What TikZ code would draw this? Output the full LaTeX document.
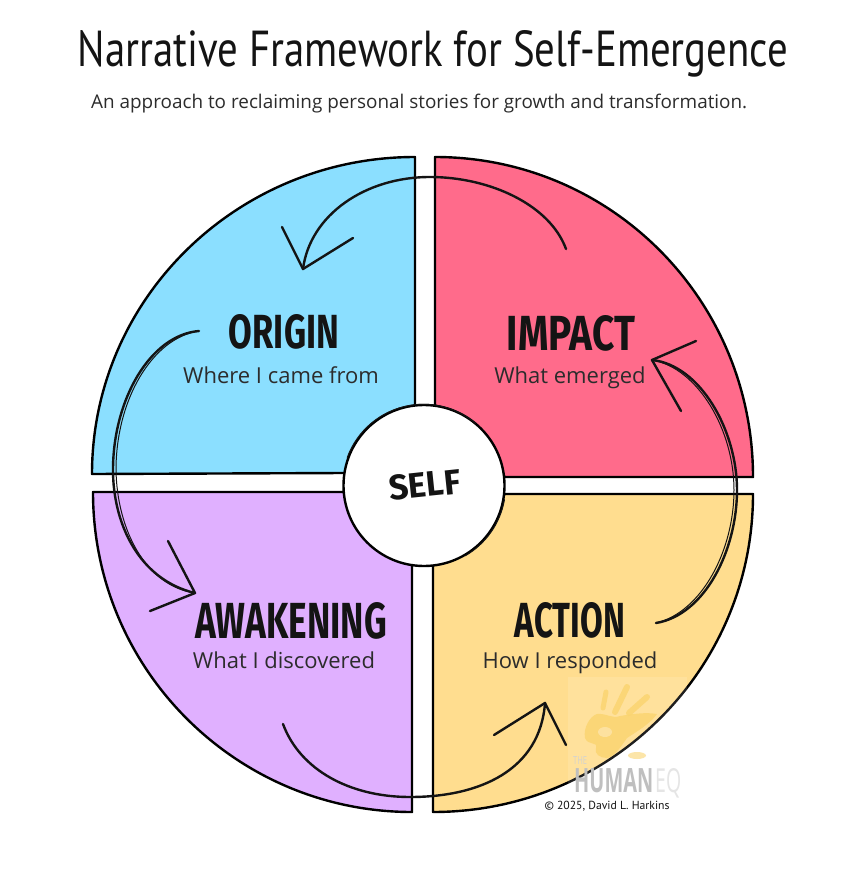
\documentclass[tikz,border=0pt]{standalone}
\usepackage{fontspec}
\usepackage{graphicx}
\setmainfont{Open Sans}
\newfontfamily\handfont{Fira Sans}
\newfontfamily\thinhand{PT Sans}
\definecolor{cblue}{RGB}{139,223,255}
\definecolor{cpink}{RGB}{255,107,139}
\definecolor{cyell}{RGB}{255,221,143}
\definecolor{cpurp}{RGB}{224,176,255}
\definecolor{ink}{RGB}{20,20,20}
\definecolor{handcol}{RGB}{250,212,110}
\tikzset{
  wedge/.style={draw=black,line width=2.4pt,line join=round},
  sketch/.style={draw=ink,line width=2.4pt,line cap=round,line join=round},
  sketchthin/.style={draw=ink,line width=1pt,line cap=round},
  sub/.style={text=ink!90,font=\fontsize{22}{26}\selectfont,inner sep=0pt},
  head/.style={text=ink,inner sep=0pt,font=\handfont\bfseries},
  hand/.style={fill=handcol,opacity=.8},
  finger/.style={draw=handcol,opacity=.8,line cap=round}
}
\begin{document}
\begin{tikzpicture}[x=1pt,y=-1pt]
\useasboundingbox (0,0) rectangle (848,896);
\fill[white] (0,0) rectangle (848,896);
% wedges
\path[wedge,fill=cblue] (415,157) .. controls (237,157) and (92,299) .. (92,474) -- (345,473) -- (415,405) -- cycle;
\path[wedge,fill=cpink] (435,157) .. controls (611,157) and (753,300) .. (753,477) -- (505,477) -- (435,405) -- cycle;
\path[wedge,fill=cyell] (753,494) .. controls (753,670) and (610,812) .. (433,812) -- (433,565) -- (505,494) -- cycle;
\path[wedge,fill=cpurp] (93,492) .. controls (93,669) and (236,812) .. (412,812) -- (412,565) -- (345,492) -- cycle;
% watermark
\fill[white,opacity=.12] (568,677) rectangle (687,794);
\path[hand] (585,738) .. controls (583,728) and (590,716) .. (597,714) .. controls (606,713) and (612,719) .. (620,716) .. controls (632,714) and (646,712) .. (657,714) .. controls (650,724) and (636,732) .. (627,738) .. controls (620,748) and (614,757) .. (607,758) .. controls (600,758) and (594,754) .. (596,748) .. controls (598,741) and (588,746) .. (585,738) -- cycle;
\fill[cyell!70!white,opacity=.7] (605,732) ellipse [x radius=7,y radius=5];
\draw[finger,line width=5pt] (606,692) -- (603,708);
\draw[finger,line width=6pt] (627,687) -- (615,712);
\draw[finger,line width=6pt] (647,697) -- (629,713);
\fill[handcol,opacity=.6] (637,755.5) ellipse [x radius=9,y radius=3.5];
\node[inner sep=0pt,text=gray!35,anchor=base west] (wmthe) at (573,764) {\resizebox{14pt}{8pt}{THE}};
\node[inner sep=0pt,text=gray!50,anchor=base west,font=\bfseries] (wmhuman) at (574,792) {\resizebox{79pt}{24pt}{HUMAN}};
\node[inner sep=0pt,text=gray!20,anchor=base west] (wmeq) at (655,792) {\resizebox{26pt}{24pt}{EQ}};
\node[inner sep=0pt,text=ink,anchor=base] (copy) at (607,809) {\thinhand\resizebox{125pt}{!}{© 2025, David L. Harkins}};
% circular arrows
\draw[sketch] (566,249) .. controls (550,205) and (490,177) .. (430,177) .. controls (365,177) and (310,215) .. (303,269);
\draw[sketch] (282,227) -- (303,269) -- (353,238);
\draw[sketch] (199,331) .. controls (150,335) and (113,400) .. (113,470) .. controls (113,525) and (140,580) .. (195,593);
\draw[sketchthin] (199,331) .. controls (152,338) and (116,400) .. (116,470) .. controls (117,530) and (146,586) .. (195,593);
\draw[sketch] (168,541) -- (195,593) -- (150,611);
\draw[sketch] (283,724) .. controls (300,770) and (350,797) .. (410,797) .. controls (480,797) and (540,770) .. (545,703);
\draw[sketch] (494,735) -- (545,703) -- (566,745);
\draw[sketch] (656,623) .. controls (705,615) and (737,550) .. (737,490) .. controls (737,430) and (700,365) .. (652,360);
\draw[sketchthin] (656,623) .. controls (702,612) and (734,550) .. (734,490) .. controls (734,430) and (698,368) .. (652,360);
\draw[sketch] (696,341) -- (652,360) -- (681,411);
% centre
\node[circle,draw=black,fill=white,line width=2.4pt,minimum size=161pt,inner sep=0pt] (self) at (424,485.5) {};
\draw[sketchthin] (self.160) arc[start angle=160,end angle=50,radius=81pt];
\draw[sketchthin] (self.-10) arc[start angle=-10,end angle=-60,radius=81pt];
\node[head,rotate=6] (selftxt) at (425,485) {\resizebox{72pt}{25pt}{SELF}};
% titles
\node[inner sep=0pt,text=ink,anchor=base] (title) at (433,67) {\thinhand\resizebox{710pt}{36pt}{Narrative Framework for Self-Emergence}};
\node[inner sep=0pt,text=ink!90,anchor=base west,font=\fontsize{19}{23}\selectfont] (subtitle) at (91,108.5) {\resizebox{656pt}{!}{An approach to reclaiming personal stories for growth and transformation.}};
% labels
\node[head] (origin) at (284,332) {\resizebox{110pt}{34pt}{ORIGIN}};
\node[sub,anchor=base] (origins) at (281,383) {Where I came from};
\node[head] (impact) at (571,333) {\resizebox{128pt}{35pt}{IMPACT}};
\node[sub,anchor=base] (impacts) at (570,383) {What emerged};
\node[head] (action) at (570,620) {\resizebox{110pt}{35pt}{ACTION}};
\node[sub,anchor=base] (actions) at (570,668) {How I responded};
\node[head] (awake) at (291,621) {\resizebox{192pt}{36pt}{AWAKENING}};
\node[sub,anchor=base] (awakes) at (284,668) {What I discovered};
\end{tikzpicture}
\end{document}
